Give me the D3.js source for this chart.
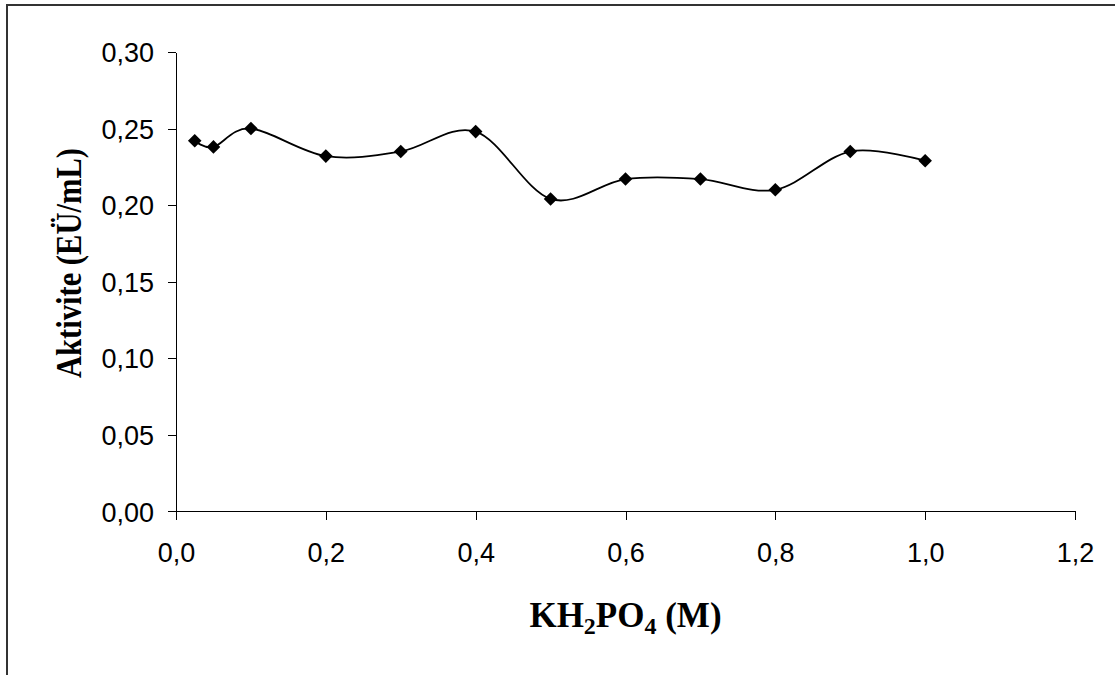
<!DOCTYPE html>
<html>
<head>
<meta charset="utf-8">
<script src="https://cdn.jsdelivr.net/npm/d3@7"></script>
<style>
  html, body { margin: 0; padding: 0; background: #fff; }
  svg { display: block; }
</style>
</head>
<body>
<svg id="chart" width="1115" height="675"></svg>
<script>
// KH2PO4 concentration (M) and measured activity (EÜ/mL)
const concentration = [0.025, 0.05, 0.1, 0.2, 0.3, 0.4, 0.5, 0.6, 0.7, 0.8, 0.9, 1.0];
const activity      = [0.242, 0.238, 0.250, 0.232, 0.235, 0.248, 0.204, 0.217, 0.217, 0.210, 0.235, 0.229];
const xTicks = [0, 0.2, 0.4, 0.6, 0.8, 1.0, 1.2];
const yTicks = [0, 0.05, 0.10, 0.15, 0.20, 0.25, 0.30];

const svg = d3.select("#chart");

// outer chart frame
svg.append("rect")
  .attr("x", 7).attr("y", 5)
  .attr("width", 1120).attr("height", 700)
  .attr("fill", "#fff")
  .attr("stroke", "#333").attr("stroke-width", 2);

const x = d3.scaleLinear().domain([0, 1.2]).range([176, 1075]);
const y = d3.scaleLinear().domain([0, 0.3]).range([511.3, 52]);

const comma = d => d.toFixed(2).replace(".", ",");
const commaX = d => d.toFixed(1).replace(".", ",");

const yAxis = svg.append("g")
  .attr("transform", `translate(${x(0)},0)`)
  .call(d3.axisLeft(y).tickValues(yTicks).tickFormat(comma).tickSize(8).tickSizeOuter(0).tickPadding(14));

const xAxis = svg.append("g")
  .attr("transform", `translate(0,${y(0)})`)
  .call(d3.axisBottom(x).tickValues(xTicks).tickFormat(commaX).tickSize(9).tickSizeOuter(0).tickPadding(23));

[yAxis, xAxis].forEach(g => {
  g.selectAll("path, line").attr("stroke", "#000").attr("stroke-width", 1).attr("shape-rendering", "crispEdges");
  g.selectAll("text")
    .attr("fill", "#000")
    .style("font-family", "'Liberation Sans', Arial, sans-serif")
    .style("font-size", "27px");
});
yAxis.selectAll("text").attr("dy", "0.36em");

const pts = concentration.map((c, i) => [c, activity[i]]);

// smoothed connecting line
const line = d3.line()
  .x(d => x(d[0]))
  .y(d => y(d[1]))
  .curve(d3.curveCatmullRom.alpha(0));

svg.append("path")
  .datum(pts)
  .attr("d", line)
  .attr("fill", "none")
  .attr("stroke", "#000")
  .attr("stroke-width", 1.8);

// diamond markers
svg.append("g")
  .selectAll("path")
  .data(pts)
  .join("path")
  .attr("transform", d => `translate(${x(d[0])},${y(d[1])})`)
  .attr("d", "M0,-6.8L6.8,0L0,6.8L-6.8,0Z")
  .attr("fill", "#000");

// axis titles
const titleFont = "'Liberation Serif', 'Times New Roman', serif";

const xt = svg.append("text")
  .attr("x", (x(0) + x(1.2)) / 2)
  .attr("y", 627)
  .attr("text-anchor", "middle")
  .style("font-family", titleFont)
  .style("font-size", "35px")
  .style("font-weight", "bold")
  .attr("fill", "#000");
xt.append("tspan").text("KH");
xt.append("tspan").text("2").attr("dy", 7).style("font-size", "24px");
xt.append("tspan").text("PO").attr("dy", -7);
xt.append("tspan").text("4").attr("dy", 7).style("font-size", "24px");
xt.append("tspan").text(" (M)").attr("dy", -7);

svg.append("text")
  .attr("transform", "translate(81,263) rotate(-90)")
  .attr("text-anchor", "middle")
  .attr("textLength", 230)
  .attr("lengthAdjust", "spacingAndGlyphs")
  .style("font-family", titleFont)
  .style("font-size", "35px")
  .style("font-weight", "bold")
  .attr("fill", "#000")
  .text("Aktivite (EÜ/mL)");
</script>
</body>
</html>
